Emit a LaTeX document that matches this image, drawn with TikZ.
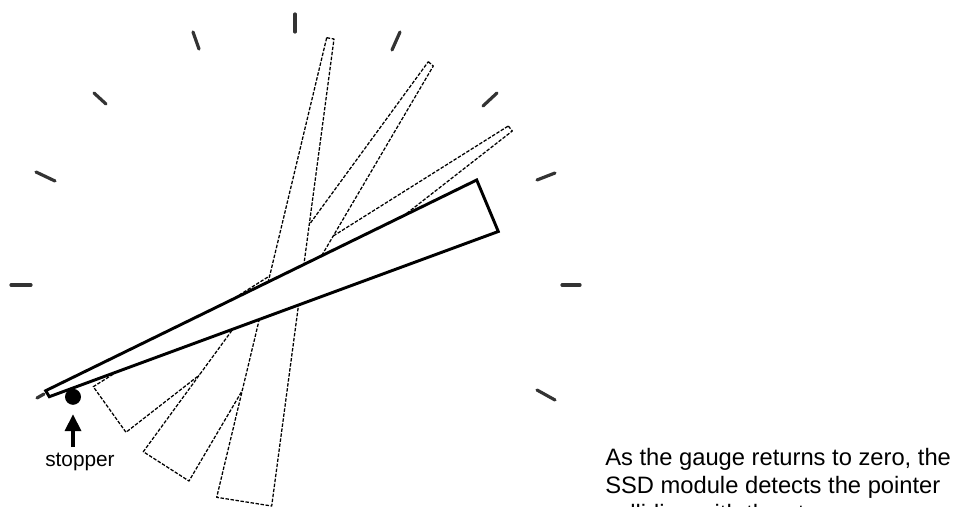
\documentclass[tikz,border=0pt]{standalone}
\usepackage{fontspec}
\setmainfont{Liberation Sans}
\tikzset{
  tick/.style={line width=2.4pt,black!80,line cap=round},
  ghost/.style={draw=black,fill=white,line width=0.95pt,dash pattern=on 2.6pt off 1.2pt,line join=round},
  mainptr/.style={draw=black,fill=white,line width=2.2pt,line join=miter},
  lbl/.style={inner sep=0pt,anchor=base west,font=\fontsize{15.6pt}{17pt}\selectfont},
  body/.style={inner sep=0pt,anchor=base west,font=\fontsize{17.8pt}{20pt}\selectfont}
}
\begin{document}
\begin{tikzpicture}[x=0.75pt,y=-0.75pt]
\useasboundingbox (0,0) rectangle (954,507);
\begin{scope}
\clip (0,0) rectangle (954,507);
\foreach \a/\b/\c/\d in {295/14/295/32,193/32/199/49,94/93/106/104,36/172/55/181,11/285/31/285,37/398/44/394,562/285/580/285,537/180/555/173,483/106/497/93,392/50/400/32,537/390/555/400}
  \draw[tick] (\a,\b) -- (\c,\d);
\coordinate (a1) at (508.3,126);
\coordinate (a2) at (512.3,131);
\coordinate (a3) at (126,432.3);
\coordinate (a4) at (93.3,386.7);
\coordinate (b1) at (428.3,61.7);
\coordinate (b2) at (433.3,66);
\coordinate (b3) at (189,481);
\coordinate (b4) at (143.3,451.7);
\coordinate (c1) at (326.7,37.7);
\coordinate (c2) at (334,39);
\coordinate (c3) at (271.7,506);
\coordinate (c4) at (216.7,497.3);
\draw[ghost] (a1) -- (a2) -- (a3) -- (a4) -- cycle;
\draw[ghost] (b1) -- (b2) -- (b3) -- (b4) -- cycle;
\draw[ghost] (c1) -- (c2) -- (c3) -- (c4) -- cycle;
\draw[mainptr] (45.7,390.7) -- (476.7,180) -- (498.3,231.5) -- (49.3,396.7) -- cycle;
\node[circle,fill=black,inner sep=0pt,minimum size=12pt] (stop) at (73,396.8) {};
\coordinate (astart) at (73,447);
\coordinate (atip) at (73,414.5);
\fill (atip) -- (81.5,431) -- (64.5,431) -- cycle;
\draw[line width=3pt] (astart) -- (73,429);
\node[lbl] (stoplbl) at (45,466.5) {stopper};
\node[body] (l1) at (605,465) {As the gauge returns to zero, the};
\node[body] (l2) at (605,493) {SSD module detects the pointer};
\node[body] (l3) at (605,521) {colliding with the stopper};
\end{scope}
\end{tikzpicture}
\end{document}
